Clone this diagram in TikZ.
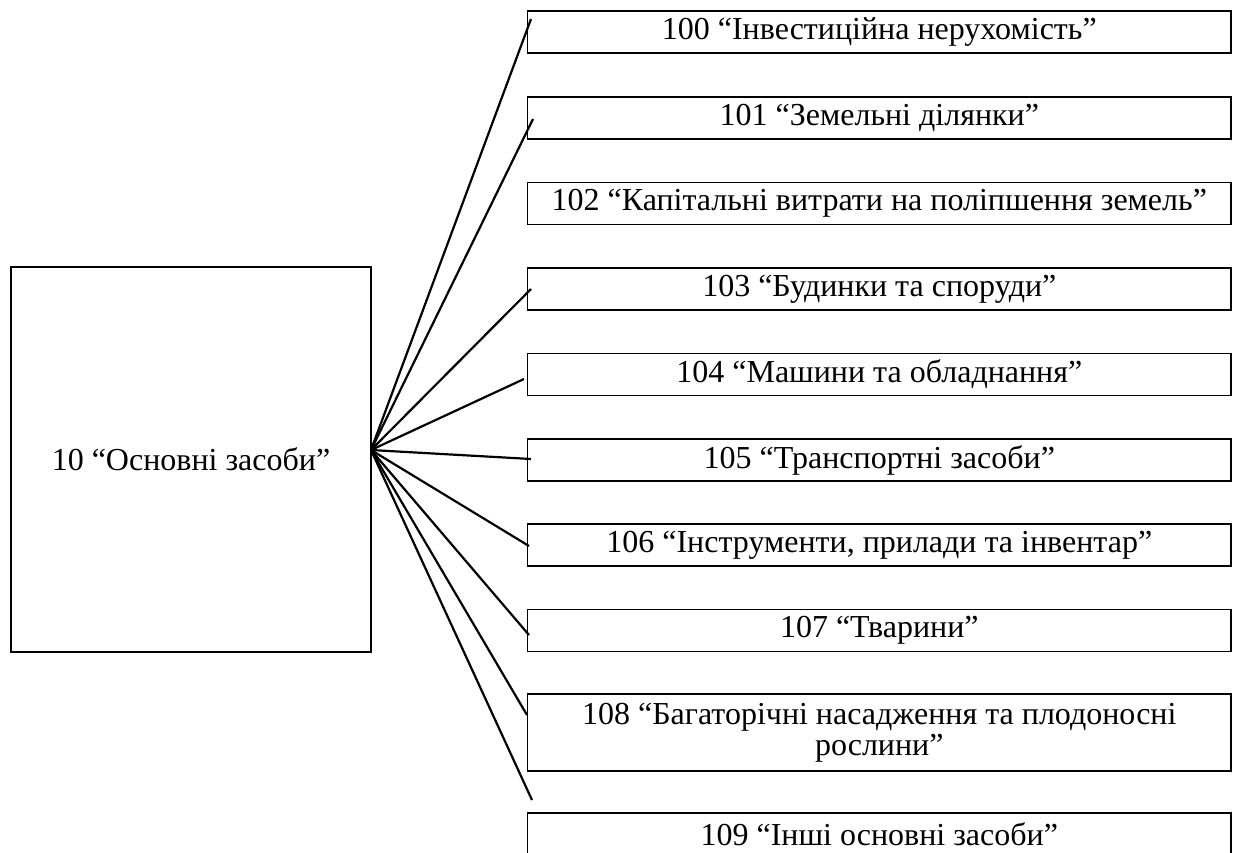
\documentclass[tikz,border=0pt]{standalone}
\usepackage{fontspec}
\setmainfont{Liberation Serif}
\begin{document}
\begin{tikzpicture}[x=1pt,y=-1pt,
  acct/.style={draw=black, line width=1.7pt, minimum width=703.5pt, minimum height=42pt,
    inner sep=0pt, align=center, font=\fontsize{32}{31}\selectfont},
  mainbox/.style={draw=black, line width=1.7pt, minimum width=360pt, minimum height=385pt,
    inner sep=0pt, align=center, font=\fontsize{32}{31}\selectfont},
  link/.style={draw=black, line width=2.2pt}]
\useasboundingbox (0,0) rectangle (1238,852);
\node[mainbox] (m) at (191,459.5) {10 “Основні засоби”};
\node[acct] (b100) at (879.3,32) {100 “Інвестиційна нерухомість”};
\node[acct] (b101) at (879.3,118) {101 “Земельні ділянки”};
\node[acct] (b102) at (879.3,203.5) {102 “Капітальні витрати на поліпшення земель”};
\node[acct] (b103) at (879.3,289) {103 “Будинки та споруди”};
\node[acct] (b104) at (879.3,374.5) {104 “Машини та обладнання”};
\node[acct] (b105) at (879.3,460) {105 “Транспортні засоби”};
\node[acct] (b106) at (879.3,545) {106 “Інструменти, прилади та інвентар”};
\node[acct] (b107) at (879.3,630.5) {107 “Тварини”};
\node[acct, minimum height=77pt] (b108) at (879.3,732.5) {108 “Багаторічні насадження та плодоносні\\рослини”};
\node[acct, minimum height=43pt] (b109) at (879.3,834.5) {109 “Інші основні засоби”};
\coordinate (hub) at (371,450);
\coordinate (e100) at (531,19);
\coordinate (e101) at (533,119);
\coordinate (e103) at (531,289);
\coordinate (e104) at (524,379);
\coordinate (e105) at (531,459);
\coordinate (e106) at (529,546);
\coordinate (e107) at (529,635);
\coordinate (e108) at (527,715);
\coordinate (e109) at (532,800);
\foreach \e in {e100,e101,e103,e104,e105,e106,e107,e108,e109}
  \draw[link] (hub) -- (\e);
\end{tikzpicture}
\end{document}
